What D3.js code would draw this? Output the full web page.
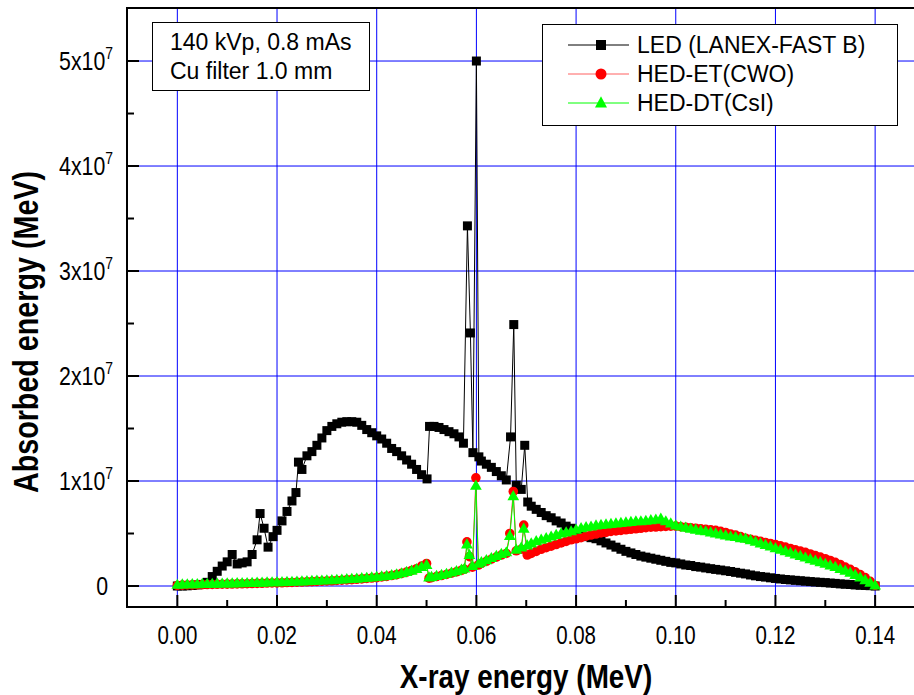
<!DOCTYPE html>
<html>
<head>
<meta charset="utf-8">
<script src="https://cdn.jsdelivr.net/npm/d3@7"></script>
<style>
  body { margin: 0; background: #fff; }
  svg { display: block; }
  text { font-family: "Liberation Sans", Arial, sans-serif; fill: #000; }
</style>
</head>
<body>
<svg id="chart" width="914" height="695"></svg>
<script>
// Absorbed energy spectra: [photon energy (keV), absorbed energy (10^6 MeV)]
const ledLanex = [
  [0,0],[1,0],[2,0.02],[3,0.05],[4,0.1],[5,0.15],[6,0.35],[7,0.9],[8,1.4],[9,1.9],[10,2.3],
  [11,3.0],[12,2.1],[13,2.2],[14,2.3],[15,3.0],[16,4.4],[16.6,6.9],[17.4,5.5],[18.2,3.7],[19.2,4.7],
  [20,5.3],[21,6.2],[22,7.1],[23,8.1],[23.8,8.9],[24.3,11.8],[25,11.1],[26,12.4],[27,12.8],[28,13.4],
  [29,14.1],[30,14.8],[31,15.2],[32,15.45],[33,15.6],[34,15.65],[35,15.65],[36,15.6],[37,15.3],
  [38,14.9],[39,14.6],[40,14.3],[41,14.0],[42,13.6],[43,13.1],[44,12.8],[45,12.4],[46,12.0],
  [47,11.6],[48,11.1],[49,10.6],[50.1,10.2],[50.6,15.2],[51.5,15.2],[52.5,15.1],[53.5,14.9],
  [54.5,14.7],[55.5,14.5],[56.5,14.2],[57.4,13.6],[58.2,34.3],[58.8,24.1],[59.3,12.7],[60,50.0],
  [60.5,12.3],[61,11.9],[62,11.6],[63,11.3],[64,10.9],[65,10.5],[66,10.1],[66.85,14.2],[67.5,24.9],
  [68,9.6],[69,9.2],[69.7,13.4],[70.3,8.0],[71,7.6],[72,7.3],[73,7.0],[74,6.7],[75,6.5],[76,6.2],
  [77,6.0],[78,5.7],[79,5.5],[80,5.1],[81,4.8],[82,4.7],[83,4.6],[84,4.5],[85,4.3],[86,4.1],
  [87,3.9],[88,3.7],[89,3.5],[90,3.3],[91,3.15],[92,3.0],[93,2.85],[94,2.75],[95,2.65],[96,2.55],
  [97,2.45],[98,2.35],[99,2.25],[100,2.2],[101,2.1],[102,2.0],[103,1.95],[104,1.85],[105,1.8],
  [106,1.72],[107,1.65],[108,1.58],[109,1.52],[110,1.45],[111,1.38],[112,1.3],[113,1.22],[114,1.15],
  [115,1.05],[116,0.97],[117,0.9],[118,0.85],[119,0.78],[120,0.72],[121,0.67],[122,0.62],[123,0.58],
  [124,0.54],[125,0.5],[126,0.46],[127,0.42],[128,0.38],[129,0.35],[130,0.32],[131,0.28],[132,0.25],
  [133,0.2],[134,0.17],[135,0.14],[136,0.1],[137,0.07],[138,0.05],[139,0.03],[140,0]
];

const hedCwo = [
  [0,0.05],[1,0.08],[2,0.1],[3,0.11],[4,0.12],[5,0.13],[6,0.14],[7,0.15],[8,0.16],[9,0.17],[10,0.18],
  [11,0.19],[12,0.2],[13,0.21],[14,0.22],[15,0.23],[16,0.25],[17,0.26],[18,0.28],[19,0.29],[20,0.3],
  [21,0.31],[22,0.33],[23,0.34],[24,0.36],[25,0.38],[26,0.4],[27,0.42],[28,0.44],[29,0.46],[30,0.48],
  [31,0.5],[32,0.53],[33,0.55],[34,0.58],[35,0.61],[36,0.64],[37,0.68],[38,0.72],[39,0.76],[40,0.8],
  [41,0.86],[42,0.92],[43,1.0],[44,1.08],[45,1.2],[46,1.32],[47,1.48],[48,1.65],[49,1.9],[50,2.15],
  [50.5,0.75],[51,0.8],[52,0.9],[53,1.0],[54,1.1],[55,1.22],[56,1.35],[57,1.5],[57.6,1.6],[58.1,4.2],
  [58.6,2.8],[59.2,1.8],[59.9,10.3],[60.4,2.0],[61,2.15],[62,2.35],[63,2.55],[64,2.75],[65,2.95],
  [66,3.1],[66.7,5.0],[67.4,9.0],[68,3.35],[69,3.5],[69.5,5.8],[70.2,2.95],[71,3.1],[72,3.3],[73,3.5],
  [74,3.65],[75,3.8],[76,3.95],[77,4.1],[78,4.25],[79,4.4],[80,4.5],[81,4.6],[82,4.75],[83,4.85],
  [84,4.95],[85,5.05],[86,5.1],[87,5.2],[88,5.25],[89,5.3],[90,5.35],[91,5.4],[92,5.45],[93,5.5],
  [94,5.55],[95,5.6],[96,5.62],[97,5.65],[98,5.68],[99,5.7],[100,5.7],[101,5.65],[102,5.6],[103,5.55],
  [104,5.5],[105,5.45],[106,5.4],[107,5.35],[108,5.3],[109,5.2],[110,5.1],[111,4.95],[112,4.85],
  [113,4.7],[114,4.55],[115,4.45],[116,4.35],[117,4.25],[118,4.15],[119,4.05],[120,3.95],[121,3.82],
  [122,3.7],[123,3.58],[124,3.45],[125,3.32],[126,3.2],[127,3.05],[128,2.9],[129,2.75],[130,2.6],
  [131,2.43],[132,2.25],[133,2.05],[134,1.8],[135,1.58],[136,1.35],[137,1.08],[138,0.8],[139,0.45],
  [140,0.05]
];

const hedCsi = [
  [0,0.05],[1,0.08],[2,0.1],[3,0.11],[4,0.12],[5,0.13],[6,0.14],[7,0.15],[8,0.16],[9,0.17],[10,0.18],
  [11,0.19],[12,0.2],[13,0.21],[14,0.22],[15,0.23],[16,0.25],[17,0.26],[18,0.28],[19,0.29],[20,0.3],
  [21,0.31],[22,0.33],[23,0.34],[24,0.36],[25,0.38],[26,0.4],[27,0.42],[28,0.44],[29,0.46],[30,0.48],
  [31,0.5],[32,0.53],[33,0.55],[34,0.58],[35,0.61],[36,0.64],[37,0.68],[38,0.72],[39,0.76],[40,0.8],
  [41,0.85],[42,0.9],[43,0.97],[44,1.05],[45,1.15],[46,1.27],[47,1.4],[48,1.55],[49,1.75],[50,1.95],
  [50.5,0.75],[51,0.8],[52,0.9],[53,1.0],[54,1.1],[55,1.22],[56,1.35],[57,1.5],[57.6,1.6],[58.1,3.9],
  [58.6,2.9],[59.2,1.85],[59.9,9.5],[60.4,2.05],[61,2.2],[62,2.4],[63,2.6],[64,2.8],[65,3.0],
  [66,3.15],[66.7,4.7],[67.4,8.5],[68,3.4],[69,3.6],[69.5,5.4],[70.2,3.8],[71,4.0],[72,4.2],[73,4.35],
  [74,4.5],[75,4.65],[76,4.8],[77,4.95],[78,5.05],[79,5.15],[80,5.3],[81,5.45],[82,5.55],[83,5.6],
  [84,5.7],[85,5.75],[86,5.8],[87,5.85],[88,5.9],[89,5.95],[90,6.0],[91,6.05],[92,6.1],[93,6.1],
  [94,6.15],[95,6.2],[96,6.25],[97,6.35],[98,6.1],[99,5.9],[100,5.7],[101,5.6],[102,5.5],[103,5.4],
  [104,5.3],[105,5.2],[106,5.15],[107,5.05],[108,4.95],[109,4.85],[110,4.75],[111,4.65],[112,4.6],
  [113,4.5],[114,4.45],[115,4.3],[116,4.15],[117,4.0],[118,3.85],[119,3.7],[120,3.55],[121,3.4],
  [122,3.25],[123,3.1],[124,2.95],[125,2.8],[126,2.65],[127,2.5],[128,2.35],[129,2.2],[130,2.05],
  [131,1.9],[132,1.75],[133,1.55],[134,1.4],[135,1.2],[136,1.0],[137,0.75],[138,0.5],[139,0.25],
  [140,0]
];

const seriesNames = ["LED (LANEX-FAST B)", "HED-ET(CWO)", "HED-DT(CsI)"];
const xTickValues = [0, 0.02, 0.04, 0.06, 0.08, 0.10, 0.12, 0.14];
const xMinorValues = [0.01, 0.03, 0.05, 0.07, 0.09, 0.11, 0.13];
const yTickValues = [0, 1e7, 2e7, 3e7, 4e7, 5e7];
const yMinorValues = [0.5e7, 1.5e7, 2.5e7, 3.5e7, 4.5e7];
const yTickMantissa = ["0", "1", "2", "3", "4", "5"];
const noteLines = ["140 kVp, 0.8 mAs", "Cu filter 1.0 mm"];

const svg = d3.select("#chart");

const x = d3.scaleLinear().domain([-0.0101, 0.1484]).range([127, 917]);
const y = d3.scaleLinear().domain([-2e6, 5.505e7]).range([607, 8]);
const [xl, xr] = x.range();
const [yb, yt] = y.range();

const px = d => x(d[0] / 1000);
const py = d => y(d[1] * 1e6);

// axis lettering is set in a condensed face
const NARROW = 0.82;

// grid
const grid = svg.append("g").attr("stroke", "#0000ff").attr("stroke-width", 1);
grid.selectAll("line.v").data(xTickValues).join("line")
  .attr("x1", d => x(d)).attr("x2", d => x(d)).attr("y1", yt).attr("y2", yb);
grid.selectAll("line.h").data(yTickValues).join("line")
  .attr("x1", xl).attr("x2", xr).attr("y1", d => y(d)).attr("y2", d => y(d));

// series
const line = d3.line().x(px).y(py);
const series = [
  { data: ledLanex, color: "#000000", lineColor: "#000000", shape: "square" },
  { data: hedCwo, color: "#ff0000", lineColor: "#ff3030", shape: "circle" },
  { data: hedCsi, color: "#00ff00", lineColor: "#00ff00", shape: "triangle" }
];

function drawMarker(g, shape, color, size) {
  if (shape === "square") {
    g.append("rect").attr("x", -size / 2).attr("y", -size / 2)
      .attr("width", size).attr("height", size).attr("fill", color);
  } else if (shape === "circle") {
    g.append("circle").attr("r", size / 2).attr("fill", color);
  } else {
    const h = size * 0.95;
    g.append("path")
      .attr("d", `M0,${-h * 0.6}L${size / 2},${h * 0.4}L${-size / 2},${h * 0.4}Z`)
      .attr("fill", color);
  }
}

const plot = svg.append("g");
series.forEach(s => {
  const g = plot.append("g");
  g.append("path").datum(s.data).attr("d", line)
    .attr("fill", "none").attr("stroke", s.lineColor).attr("stroke-width", 1);
  const sym = s.shape === "square" ? d3.symbolSquare : s.shape === "circle" ? d3.symbolCircle : d3.symbolTriangle;
  const area = s.shape === "square" ? 81 : s.shape === "circle" ? 72 : 60;
  g.selectAll("path.m").data(s.data).join("path")
    .attr("class", "m")
    .attr("transform", d => `translate(${px(d)},${py(d)})`)
    .attr("d", d3.symbol(sym, area))
    .attr("fill", s.color);
});

// frame (left, top and bottom edges)
svg.append("path")
  .attr("d", `M${xr},${yt}H${xl}V${yb}H${xr}`)
  .attr("fill", "none").attr("stroke", "#000").attr("stroke-width", 2);

// inward ticks
const ticks = svg.append("g").attr("stroke", "#000").attr("stroke-width", 2);
ticks.selectAll("line.xM").data(xTickValues).join("line")
  .attr("x1", d => x(d)).attr("x2", d => x(d)).attr("y1", yb).attr("y2", yb - 12);
ticks.selectAll("line.xm").data(xMinorValues).join("line")
  .attr("x1", d => x(d)).attr("x2", d => x(d)).attr("y1", yb).attr("y2", yb - 7);
ticks.selectAll("line.yM").data(yTickValues).join("line")
  .attr("x1", xl).attr("x2", xl + 12).attr("y1", d => y(d)).attr("y2", d => y(d));
ticks.selectAll("line.ym").data(yMinorValues).join("line")
  .attr("x1", xl).attr("x2", xl + 7).attr("y1", d => y(d)).attr("y2", d => y(d));

// tick labels
const fmtX = d3.format(".2f");
svg.append("g").selectAll("text").data(xTickValues).join("text")
  .attr("transform", d => `translate(${x(d)},644) scale(${NARROW},1)`)
  .attr("text-anchor", "middle").attr("font-size", 25)
  .text(d => fmtX(d));

const yLab = svg.append("g").selectAll("text").data(yTickValues).join("text")
  .attr("transform", d => `translate(${d === 0 ? 108 : 113},${y(d) + 9}) scale(${NARROW},1)`)
  .attr("text-anchor", "end").attr("font-size", 26);
yLab.each(function(d, i) {
  const t = d3.select(this);
  if (d === 0) { t.text(yTickMantissa[i]); return; }
  t.append("tspan").text(yTickMantissa[i] + "x10");
  t.append("tspan").attr("dy", -11).attr("font-size", 17).text("7");
});

// axis titles
svg.append("text")
  .attr("transform", `translate(526,688) scale(${NARROW},1)`)
  .attr("text-anchor", "middle").attr("font-size", 34).attr("font-weight", "bold")
  .text("X-ray energy (MeV)");
svg.append("text")
  .attr("transform", `translate(38,332) rotate(-90) scale(${NARROW},1)`)
  .attr("text-anchor", "middle").attr("font-size", 35).attr("font-weight", "bold")
  .text("Absorbed energy (MeV)");

// condition note
svg.append("rect").attr("x", 152.5).attr("y", 22.5).attr("width", 217).attr("height", 68)
  .attr("fill", "#fff").attr("stroke", "#000").attr("stroke-width", 1);
svg.append("g").selectAll("text").data(noteLines).join("text")
  .attr("x", 170).attr("y", (d, i) => 50 + i * 29)
  .attr("font-size", 23).text(d => d);

// legend
const leg = svg.append("g");
leg.append("rect").attr("x", 542.5).attr("y", 24.5).attr("width", 355).attr("height", 101)
  .attr("fill", "#fff").attr("stroke", "#000").attr("stroke-width", 1);
const legendMarkerSize = [10, 11, 12];
series.forEach((s, i) => {
  const cy = 45 + i * 29;
  leg.append("line").attr("x1", 568).attr("x2", 629).attr("y1", cy).attr("y2", cy)
    .attr("stroke", i === 1 ? "#ff6060" : s.lineColor).attr("stroke-width", 1);
  const m = leg.append("g").attr("transform", `translate(601,${cy})`);
  drawMarker(m, s.shape, s.color, legendMarkerSize[i]);
  leg.append("text").attr("x", 637).attr("y", cy + 8).attr("font-size", 23).text(seriesNames[i]);
});
</script>
</body>
</html>
